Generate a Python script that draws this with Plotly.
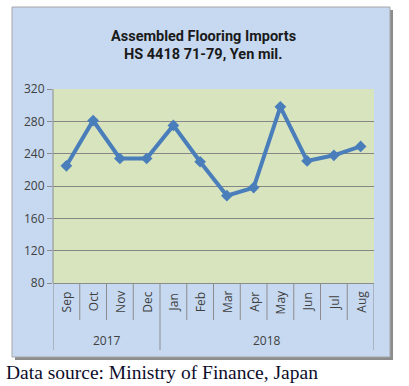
import plotly.graph_objects as go

months = ["Sep", "Oct", "Nov", "Dec", "Jan", "Feb", "Mar", "Apr", "May", "Jun", "Jul", "Aug"]
years = ["2017", "2018"]
year_counts = [4, 8]
values = [225, 281, 234, 234, 275, 230, 188, 198, 298, 231, 238, 249]
y_ticks = [80, 120, 160, 200, 240, 280, 320]

W, H = 409, 386
L, R, T, B = 53, 374, 89, 283

def px(x):
    return (x - L) / (R - L)

def py(y):
    return (B - y) / (B - T)

idx = list(range(len(months)))

fig = go.Figure()
fig.add_trace(go.Scatter(
    x=idx, y=values, mode="lines+markers",
    line=dict(color="#4a7ebb", width=4),
    marker=dict(symbol="diamond", size=9, color="#4a7ebb"),
    hoverinfo="skip", showlegend=False,
))

shapes = []
shapes.append(dict(type="rect", xref="paper", yref="paper",
                   x0=px(15), x1=px(393), y0=py(360), y1=py(10),
                   fillcolor="#8c8c8c", line=dict(width=0), layer="below"))
shapes.append(dict(type="rect", xref="paper", yref="paper",
                   x0=px(12), x1=px(390), y0=py(357), y1=py(7),
                   fillcolor="#c6d9f1", line=dict(color="#a6a6a6", width=1), layer="below"))
shapes.append(dict(type="rect", xref="paper", yref="paper",
                   x0=0, x1=1, y0=0, y1=1,
                   fillcolor="#d7e4bd", line=dict(width=0), layer="below"))

n = len(months)
boundaries_major = [-0.5]
acc = -0.5
for c in year_counts:
    acc += c
    boundaries_major.append(acc)
for i in range(n + 1):
    b = i - 0.5
    major = any(abs(b - m) < 1e-9 for m in boundaries_major)
    shapes.append(dict(type="line", xref="x", yref="paper",
                       x0=b, x1=b, y0=0, y1=py(350) if major else py(320),
                       line=dict(color="#8c8c8c", width=1)))
shapes.append(dict(type="line", xref="paper", yref="paper",
                   x0=0, x1=0, y0=0, y1=1, line=dict(color="#8c8c8c", width=1)))

title_font = dict(family="Roboto", size=14.5, color="#1a1a1a")
annotations = []
annotations.append(dict(text="<b>Assembled Flooring Imports</b>", xref="paper", yref="paper",
                        x=px(203), y=py(36), xanchor="center", yanchor="middle",
                        showarrow=False, font=title_font))
annotations.append(dict(text="<b>HS 4418 71-79, Yen mil.</b>", xref="paper", yref="paper",
                        x=px(203), y=py(55), xanchor="center", yanchor="middle",
                        showarrow=False, font=title_font))
for i, m in enumerate(months):
    annotations.append(dict(text=m, xref="x", yref="paper", x=i, y=py(302),
                            xanchor="center", yanchor="middle", textangle=-90, showarrow=False,
                            font=dict(family="Open Sans", size=12, color="#404040")))
start = -0.5
for yname, c in zip(years, year_counts):
    annotations.append(dict(text=yname, xref="x", yref="paper", x=start + c / 2, y=py(340),
                            xanchor="center", yanchor="middle", showarrow=False,
                            font=dict(family="Open Sans", size=12, color="#404040")))
    start += c
annotations.append(dict(text="Data source: Ministry of Finance, Japan", xref="paper", yref="paper",
                        x=px(4), y=py(372), xanchor="left", yanchor="middle", showarrow=False,
                        font=dict(family="Liberation Serif", size=19.5, color="#0d0d2b")))

fig.update_layout(
    width=W, height=H,
    margin=dict(l=L, r=W - R, t=T, b=H - B, pad=0),
    paper_bgcolor="white", plot_bgcolor="rgba(0,0,0,0)",
    shapes=shapes, annotations=annotations,
    xaxis=dict(range=[-0.5, n - 0.5], showticklabels=False, showgrid=False,
               zeroline=False, showline=True, linecolor="#8c8c8c", ticks=""),
    yaxis=dict(range=[80, 320], tickvals=y_ticks, showgrid=True, gridcolor="#868686",
               gridwidth=1, zeroline=False, ticks="outside", ticklen=5, tickcolor="#8c8c8c",
               tickfont=dict(family="Open Sans", size=12, color="#404040")),
)

fig.write_html("out.html", config={"displayModeBar": False},
               post_script="document.body.style.margin='0';document.body.style.overflow='hidden';")
